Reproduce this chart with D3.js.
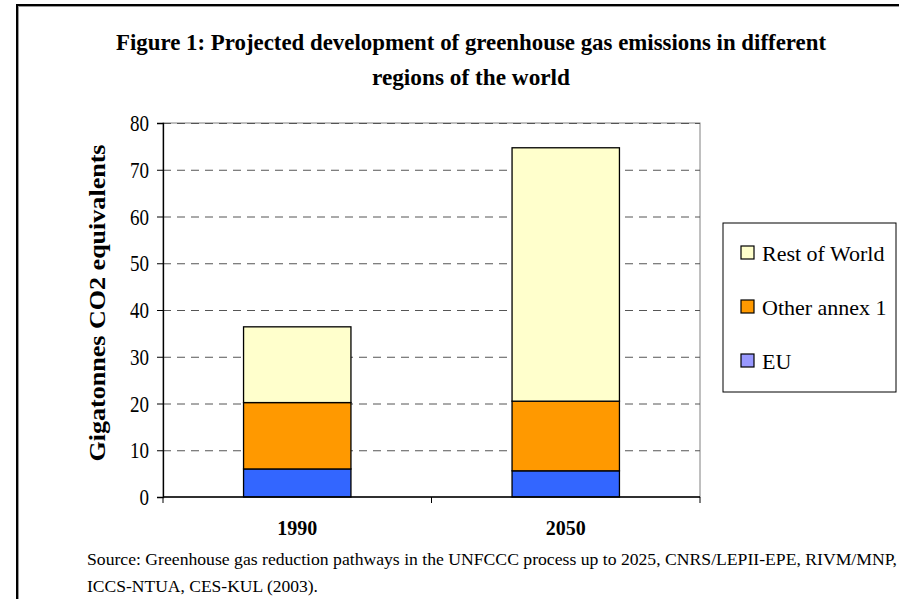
<!DOCTYPE html>
<html>
<head>
<meta charset="utf-8">
<script src="https://cdn.jsdelivr.net/npm/d3@7"></script>
<style>
  body { margin: 0; background: #fff; }
  text { font-family: "Liberation Serif", "Times New Roman", serif; }
</style>
</head>
<body>
<script>
// Categories and series (Gt CO2 equivalents, stacked)
var years = ['1990', '2050'];
var seriesNames = ['EU', 'Other annex 1', 'Rest of World'];
var euValues = [6.0, 5.6];
var otherAnnexValues = [14.2, 14.9];
var restOfWorldValues = [16.2, 54.2];
var yTicks = [0, 10, 20, 30, 40, 50, 60, 70, 80];

var barColors = ['#3366FF', '#FF9900', '#FFFFCC'];
var legendColors = ['#9999FF', '#FF9900', '#FFFFCC'];

var table = years.map((y, i) => ({
  year: y,
  'EU': euValues[i],
  'Other annex 1': otherAnnexValues[i],
  'Rest of World': restOfWorldValues[i]
}));
var stacked = d3.stack().keys(seriesNames)(table);

var svg = d3.select("body").append("svg")
  .attr("height", 599)
  .attr("width", 899);

// outer frame (with a faint grey shadow line)
svg.append("rect")
   .attr("x", 18.5).attr("y", 6.5)
   .attr("width", 900).attr("height", 620)
   .attr("fill", "none")
   .attr("stroke", "#999")
   .attr("stroke-width", 1);
svg.append("rect")
   .attr("x", 17).attr("y", 5)
   .attr("width", 900).attr("height", 620)
   .attr("fill", "none")
   .attr("stroke", "#000")
   .attr("stroke-width", 2);

var plotLeft = 163, plotRight = 700, plotTop = 123, plotBottom = 497;

var x = d3.scaleBand()
          .domain(years)
          .range([plotLeft, plotRight])
          .paddingInner(0.6)
          .paddingOuter(0.3);

var y = d3.scaleLinear()
          .domain([0, 80])
          .range([plotBottom, plotTop]);

// plot area border
svg.append("rect")
   .attr("x", plotLeft).attr("y", plotTop)
   .attr("width", plotRight - plotLeft).attr("height", plotBottom - plotTop)
   .attr("fill", "#fff")
   .attr("stroke", "#808080")
   .attr("stroke-width", 1);

// dashed gridlines
svg.selectAll("line.grid")
   .data(yTicks.filter(d => d > 0))
   .enter().append("line")
      .attr("class", "grid")
      .attr("x1", plotLeft)
      .attr("x2", plotRight)
      .attr("y1", d => y(d) + 0.5)
      .attr("y2", d => y(d) + 0.5)
      .style("stroke", "#555")
      .attr("stroke-width", 1)
      .attr("stroke-dasharray", "8,6");

// stacked bars
svg.selectAll("g.layer")
   .data(stacked)
   .enter().append("g")
      .attr("class", "layer")
      .attr("fill", (d, i) => barColors[i])
   .selectAll("rect")
   .data(d => d)
   .enter().append("rect")
      .attr("x", d => x(d.data.year))
      .attr("y", d => y(d[1]))
      .attr("width", x.bandwidth())
      .attr("height", d => y(d[0]) - y(d[1]))
      .attr("stroke", "#000")
      .attr("stroke-width", 1.3);

// y axis
var yAxis = d3.axisLeft(y).tickValues(yTicks).tickSize(6).tickPadding(8);
var gy = svg.append("g")
   .attr("transform", "translate(" + plotLeft + ",0)")
   .call(yAxis);
gy.select(".domain").attr("stroke", "#000").attr("stroke-width", 1.3);
gy.selectAll(".tick line").attr("stroke", "#000");
gy.selectAll(".tick text")
  .attr("font-size", 24)
  .attr("fill", "#000")
  .attr("textLength", d => String(d).length * 9.5)
  .attr("lengthAdjust", "spacingAndGlyphs");

// x axis: ticks at category boundaries
var xBounds = [plotLeft, (x('1990') + x.bandwidth() + x('2050')) / 2, plotRight];
svg.append("line")
   .attr("x1", plotLeft).attr("x2", plotRight)
   .attr("y1", plotBottom).attr("y2", plotBottom)
   .attr("stroke", "#000").attr("stroke-width", 1.3);
svg.selectAll("line.xtick")
   .data(xBounds)
   .enter().append("line")
      .attr("class", "xtick")
      .attr("x1", d => d).attr("x2", d => d)
      .attr("y1", plotBottom).attr("y2", plotBottom + 6)
      .attr("stroke", "#000");

svg.selectAll("text.xlabel")
   .data(years)
   .enter().append("text")
      .attr("class", "xlabel")
      .attr("x", d => x(d) + x.bandwidth() / 2)
      .attr("y", 535)
      .attr("text-anchor", "middle")
      .attr("font-weight", "bold")
      .attr("font-size", 20)
      .attr("textLength", 40)
      .attr("lengthAdjust", "spacingAndGlyphs")
      .text(d => d);

// y axis title
svg.append("text")
   .attr("transform", "translate(105,303) rotate(-90)")
   .attr("text-anchor", "middle")
   .attr("font-weight", "bold")
   .attr("font-size", 24)
   .attr("textLength", 317)
   .attr("lengthAdjust", "spacingAndGlyphs")
   .text("Gigatonnes CO2 equivalents");

// title
var titleLines = ["Figure 1: Projected development of greenhouse gas emissions in different", "regions of the world"];
var titleWidths = [710, 198];
svg.selectAll("text.title")
   .data(titleLines)
   .enter().append("text")
      .attr("class", "title")
      .attr("x", 471)
      .attr("y", (d, i) => 50 + i * 35)
      .attr("text-anchor", "middle")
      .attr("font-weight", "bold")
      .attr("font-size", 23)
      .attr("textLength", (d, i) => titleWidths[i])
      .attr("lengthAdjust", "spacingAndGlyphs")
      .text(d => d);

// legend
var legend = svg.append("g").attr("transform", "translate(723,223)");
legend.append("rect")
   .attr("width", 173).attr("height", 169)
   .attr("fill", "#fff")
   .attr("stroke", "#000")
   .attr("stroke-width", 1);
var legendOrder = [2, 1, 0];
var items = legend.selectAll("g.item")
   .data(legendOrder)
   .enter().append("g")
      .attr("class", "item")
      .attr("transform", (d, i) => "translate(18," + (23 + i * 54) + ")");
items.append("rect")
   .attr("width", 13).attr("height", 13)
   .attr("fill", d => legendColors[d])
   .attr("stroke", "#000")
   .attr("stroke-width", 1.2);
items.append("text")
   .attr("x", 21)
   .attr("y", 15)
   .attr("font-size", 22)
   .text(d => seriesNames[d]);

// source note
var sourceLines = ["Source: Greenhouse gas reduction pathways in the UNFCCC process up to 2025, CNRS/LEPII-EPE, RIVM/MNP,", "ICCS-NTUA, CES-KUL (2003)."];
var sourceWidths = [810, 231];
svg.selectAll("text.source")
   .data(sourceLines)
   .enter().append("text")
      .attr("class", "source")
      .attr("x", 87)
      .attr("y", (d, i) => 565 + i * 27)
      .attr("font-size", 17)
      .attr("textLength", (d, i) => sourceWidths[i])
      .attr("lengthAdjust", "spacingAndGlyphs")
      .text(d => d);
</script>
</body>
</html>
